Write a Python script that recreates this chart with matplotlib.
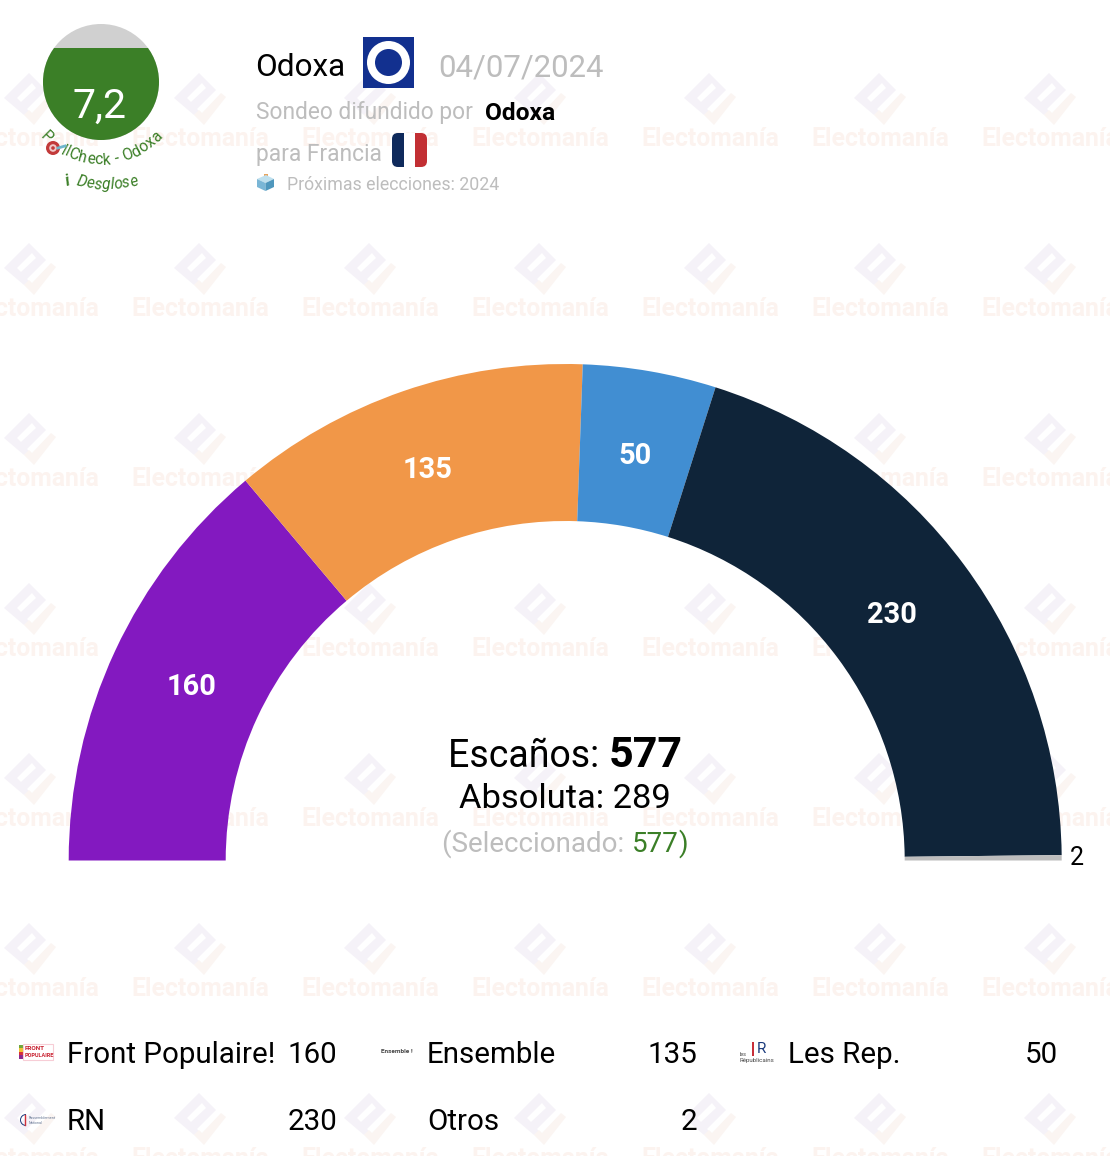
import matplotlib
matplotlib.use("Agg")
import matplotlib.pyplot as plt
import matplotlib.patches as mpatches
import numpy as np
from matplotlib.font_manager import FontProperties
from matplotlib.textpath import TextPath

plt.rcParams['font.family'] = ['Roboto', 'DejaVu Sans']

# data
parties = ["Front Populaire!", "Ensemble", "Les Rep.", "RN", "Otros"]
seats = [160, 135, 50, 230, 2]
colors = ["#8319c0", "#f19748", "#418ed2", "#0f2439", "#bdbdbd"]
total_seats = 577
absolute = 289
selected = 577
pollcheck = "7,2"
pollster = "Odoxa"
poll_date = "04/07/2024"

GREEN = "#3b7f27"
GREY = "#bdbdbd"
cx, cy = 565.2, 860.5
r_out, r_in = 496.5, 339.5

# axes in pixel coords, y going down
fig = plt.figure(figsize=(11.10, 11.56), dpi=100)
ax = fig.add_axes([0, 0, 1, 1])
ax.set_xlim(0, 1110)
ax.set_ylim(1156, 0)
ax.axis("off")


def px(size):
    return size * 0.72


def advance(s, size, weight="normal", style="normal"):
    # width including spaces, the bar keeps trailing spaces from being dropped
    fp = FontProperties(family="Roboto", weight=weight, style=style)
    bar = TextPath((0, 0), "|", size=size, prop=fp).get_extents().x1
    return TextPath((0, 0), s + "|", size=size, prop=fp).get_extents().x1 - bar


def row(x, y, parts):
    # parts are (string, colour, weight, size), centred on x as a group
    start = x - sum(advance(p[0], p[3], p[2]) for p in parts) / 2
    for s, col, weight, size in parts:
        ax.text(start, y, s, color=col, fontweight=weight, fontsize=px(size),
                va="baseline", ha="left", zorder=5)
        start += advance(s, size, weight)


def curved(s, x0, y0, radius, size, style="normal"):
    # one glyph at a time along the bottom of a circle
    tot = advance(s, size, style=style)
    for i, ch in enumerate(s):
        a = advance(s[:i], size, style=style) if i else 0
        b = advance(s[:i + 1], size, style=style)
        th = ((a + b) / 2 - tot / 2) / radius
        xx = x0 + radius * np.sin(th)
        yy = y0 + radius * np.cos(th)
        ax.text(xx, yy, ch, color=GREEN, fontsize=px(size), style=style, rotation=np.degrees(th),
                rotation_mode="anchor", ha="center", va="center", zorder=6)


# watermark grid
for wx in range(30, 1200, 170):
    for wy in range(99, 1200, 170):
        body = [(-1, -26), (16, -9), (-3, 10), (-1, 12), (-6, 16), (-26, -1)]
        ax.add_patch(mpatches.Polygon([(wx + a, wy + b) for a, b in body], closed=True,
                                      fc="#f5f2f8", ec="none", zorder=1))
        inner = [(-13, -1), (2, -16), (6, -11), (-9, 3)]
        ax.add_patch(mpatches.Polygon([(wx + a, wy + b) for a, b in inner], closed=True,
                                      fc="white", ec="none", zorder=1.1))
        tail = [(-6, 16), (-1, 11), (2, 14), (21, -6), (26, -2), (4, 26)]
        ax.add_patch(mpatches.Polygon([(wx + a, wy + b) for a, b in tail], closed=True,
                                      fc="#fbf5f2", ec="none", zorder=1))
        ax.text(wx + 0.5, wy + 40, "Electomanía", color="#fcf3ef", fontweight="bold", fontsize=px(24.8),
                ha="center", va="center", zorder=1, clip_on=True)

# hemicycle, seats decide the angles
angle = 180.0
mid_r = 413
label_dx = [1, -3, -1, -5]
label_dy = [1, 0, 2, 0]
for i, (party, n, col) in enumerate(zip(parties, seats, colors)):
    sweep = 180.0 * n / sum(seats)
    ax.add_patch(mpatches.Wedge((cx, cy), r_out, -angle, -angle + sweep, width=r_out - r_in,
                                fc=col, ec="none", zorder=3))
    mid = np.radians(angle - sweep / 2)
    if n > 10:
        ax.text(cx + mid_r * np.cos(mid) + label_dx[i], cy - mid_r * np.sin(mid) + label_dy[i], str(n),
                color="white", fontweight="bold", fontsize=px(29), ha="center", va="center", zorder=4)
    else:
        ax.text(1077, 858, str(n), color="black", fontsize=px(25), ha="center", va="center", zorder=4)
    angle -= sweep

# centre text
row(565, 767, [("Escaños: ", "black", "normal", 37.5), (str(total_seats), "black", "bold", 43)])
ax.text(565, 799, "Absoluta: %d" % absolute, color="black", fontsize=px(34.5), ha="center", va="center", zorder=5)
row(565, 852, [("(Seleccionado: ", GREY, "normal", 27.8), (str(selected), GREEN, "normal", 27.8), (")", GREEN, "normal", 27.8)])

# score badge
badge = mpatches.Circle((101, 82), 58, fc="#d0d0d0", ec="none", zorder=3)
ax.add_patch(badge)
fill = mpatches.Rectangle((40, 48), 122, 100, fc=GREEN, ec="none", zorder=3.1)
ax.add_patch(fill)
fill.set_clip_path(badge)
ax.text(100, 106, pollcheck, color="white", fontsize=px(41), ha="center", va="center", zorder=5)
curved("P    llCheck - Odoxa", 101, 82, 78, 15.5)
curved("Desglose", 107, 86, 99, 15.5, style="italic")
ax.text(68, 181, "i", color=GREEN, fontsize=px(16), fontweight="bold", style="italic",
        rotation=15, ha="center", va="center", zorder=6)
# target + dart
ax.add_patch(mpatches.Circle((53, 148), 7, fc="#c23a3a", ec="none", zorder=7))
ax.add_patch(mpatches.Circle((53, 148), 3.8, fc="#f0c9c9", ec="none", zorder=7.1))
ax.add_patch(mpatches.Circle((53, 148), 1.8, fc="#c23a3a", ec="none", zorder=7.2))
ax.plot([58, 65], [148, 146], color="#6fb6cc", lw=2, zorder=7.3)

# header
ax.text(255, 68, pollster, color="black", fontsize=px(31.5), ha="left", va="center", zorder=5)
ax.add_patch(mpatches.Rectangle((363, 37), 51, 51, fc="#12308f", ec="none", zorder=5))
ax.add_patch(mpatches.Circle((388.5, 62.5), 21.5, fc="white", ec="none", zorder=5.1))
ax.add_patch(mpatches.Circle((388.5, 62.5), 13.5, fc="#12308f", ec="none", zorder=5.2))
ax.text(438, 68, poll_date, color=GREY, fontsize=px(31.2), ha="left", va="center", zorder=5)
ax.text(256, 113, "Sondeo difundido por", color=GREY, fontsize=px(22.7), ha="left", va="center", zorder=5)
ax.text(485, 114, pollster, color="black", fontweight="bold", fontsize=px(24.5), ha="left", va="center", zorder=5)
ax.text(256, 155, "para Francia", color=GREY, fontsize=px(22.8), ha="left", va="center", zorder=5)
flag = mpatches.FancyBboxPatch((392, 133), 35, 34, boxstyle="round,pad=0,rounding_size=6", fc="white", ec="none", zorder=5)
ax.add_patch(flag)
for fx, fcol in zip([392, 403.7, 415.4], ["#0f2a5c", "white", "#c22f33"]):
    st = mpatches.Rectangle((fx, 133), 11.7, 34, fc=fcol, ec="none", zorder=5.1)
    ax.add_patch(st)
    st.set_clip_path(flag)
# ballot box
ax.add_patch(mpatches.Rectangle((263.5, 174), 4, 6, fc="#e8a35c", ec="none", zorder=5))
ax.add_patch(mpatches.Polygon([(257, 179), (266, 175), (274, 179), (265.5, 183)], fc="#bfe0ee", ec="none", zorder=5.1))
ax.add_patch(mpatches.Polygon([(257, 179), (265.5, 183), (265.5, 191), (257, 187)], fc="#7ab6d6", ec="none", zorder=5.1))
ax.add_patch(mpatches.Polygon([(265.5, 183), (274, 179), (274, 187), (265.5, 191)], fc="#4f97bd", ec="none", zorder=5.1))
ax.text(287, 184.5, "Próximas elecciones: 2024", color=GREY, fontsize=px(17.7), ha="left", va="center", zorder=5)

# legend
name_x = [67, 427, 788, 67, 427]
value_x = [337, 697, 1058, 337, 697]
leg_y = [1055, 1055, 1055, 1122, 1122]
for party, n, nx, vx, ly in zip(parties, seats, name_x, value_x, leg_y):
    ax.text(nx, ly, party, color="black", fontsize=px(29.5), ha="left", va="center", zorder=5)
    ax.text(vx, ly, str(n), color="black", fontsize=px(29.5), ha="right", va="center", zorder=5)

# little party logos
for by, bcol in zip([1044.5, 1048, 1051.5, 1055], ["#6fa83c", "#f0c330", "#d6303a", "#8a2a90"]):
    ax.add_patch(mpatches.Rectangle((19, by), 4, 3.6, fc=bcol, ec="none", zorder=5))
ax.add_patch(mpatches.Rectangle((23, 1044), 30, 16, fc="white", ec="#f7cdd6", lw=0.8, zorder=5))
ax.text(24.5, 1049, "FRONT", color="#c8202f", fontsize=4.6, fontweight="bold", ha="left", va="center", zorder=6)
ax.text(24.5, 1055.5, "POPULAIRE", color="#c8202f", fontsize=4.0, fontweight="bold", ha="left", va="center", zorder=6)
ax.text(397, 1051.5, "Ensemble !", color="#444444", fontsize=4.6, fontweight="bold", ha="center", va="center", zorder=6)
ax.add_patch(mpatches.Rectangle((752, 1042), 2.4, 14, fc="#c8303a", ec="none", zorder=6))
ax.text(761, 1049, "R", color="#1a3a7c", fontsize=11, ha="center", va="center", zorder=6)
ax.text(740, 1055, "les", color="#444444", fontsize=4, ha="left", va="center", zorder=6)
ax.text(740, 1060.5, "Républicains", color="#444444", fontsize=4.4, ha="left", va="center", zorder=6)
ax.add_patch(mpatches.Arc((26, 1120), 11, 11, theta1=90, theta2=270, ec="#1a3a7c", lw=0.7, zorder=6))
ax.plot([25, 25], [1115, 1125], color="#d0303a", lw=1, zorder=6)
ax.text(29, 1118, "Rassemblement", color="#6a7a96", fontsize=2.7, ha="left", va="center", zorder=6)
ax.text(29, 1122.5, "National", color="#6a7a96", fontsize=2.7, ha="left", va="center", zorder=6)

fig.savefig("out.png", dpi=100, facecolor="white")
